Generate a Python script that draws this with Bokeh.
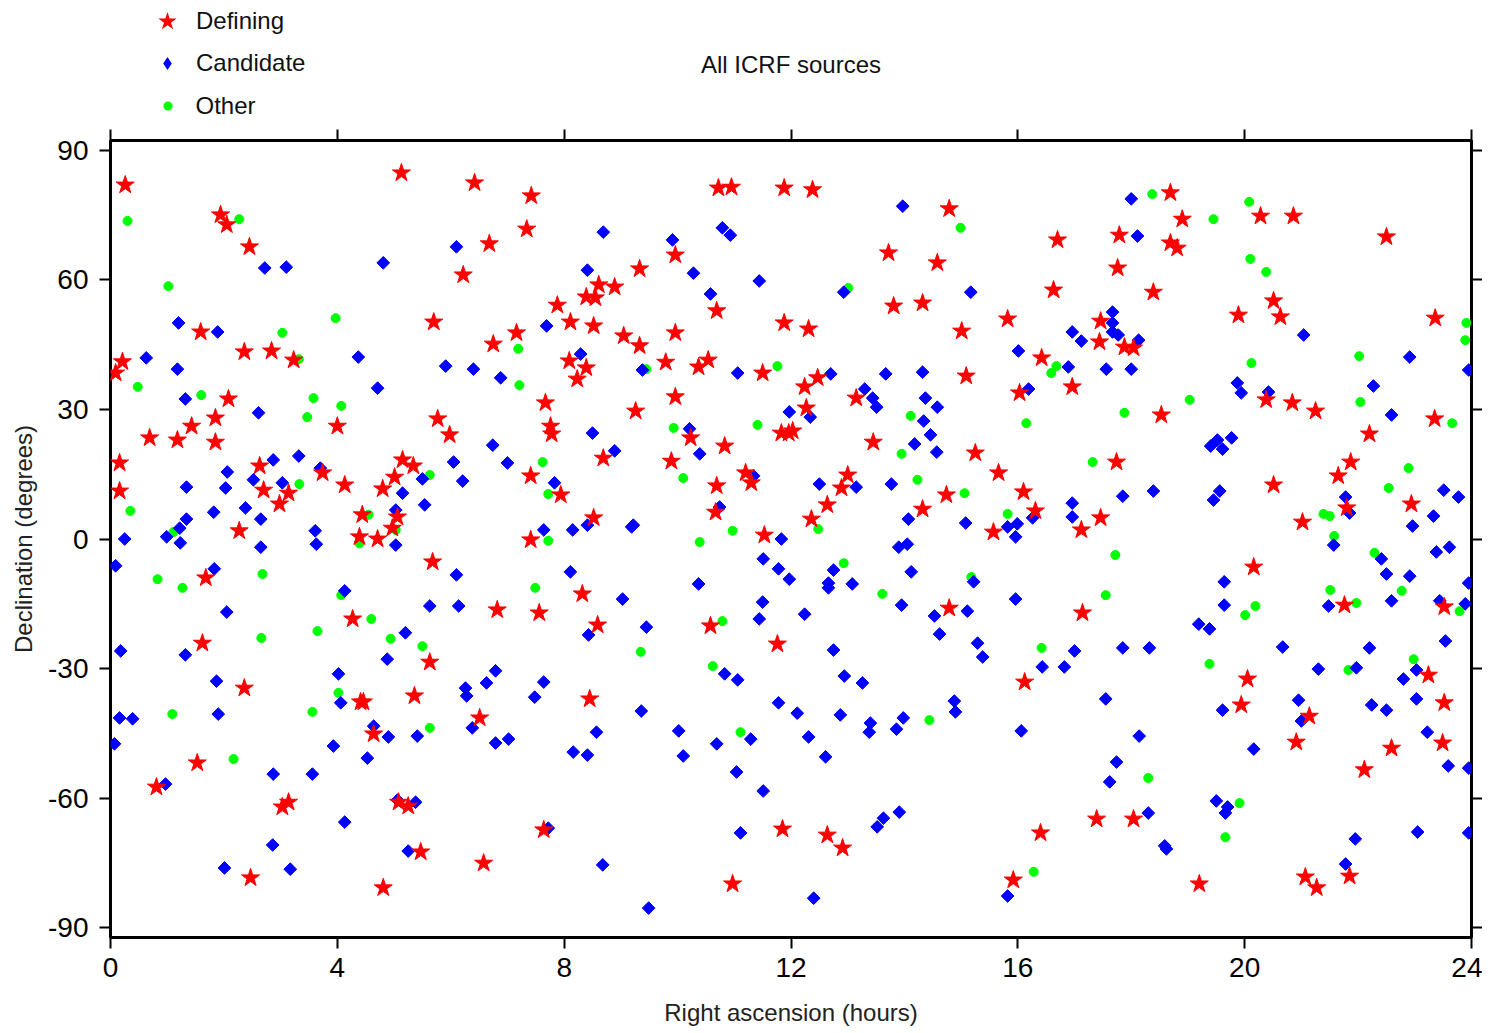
from bokeh.plotting import figure
from bokeh.models import Range1d, FixedTicker, LinearAxis, Legend, LegendItem, Label
from bokeh.layouts import column
from bokeh.embed import file_html
from bokeh.resources import INLINE
import numpy as np

# ---------------- data (RA in hours, Dec in degrees) ----------------
def_ra = [0.26, 0.21, 0.09, 0.16, 0.16, 0.69, 0.81, 1.18, 1.43, 1.59, 1.62, 1.68, 1.53, 1.85, 1.85, 1.94, 2.05, 2.08,
          2.27, 2.36, 2.36, 2.45, 2.47, 2.63, 2.70, 2.84, 2.98, 3.03, 3.14, 3.14, 3.23, 3.74,
          4.00, 4.13, 4.27, 4.44, 4.39, 4.71, 4.80, 4.97, 5.06, 5.01, 5.15, 5.34, 5.13, 5.70, 5.77, 5.98, 6.42, 6.22,
          6.68, 6.75, 7.16, 7.34, 7.42, 7.41, 7.41, 7.67, 7.76, 7.78, 7.88, 7.94, 5.68, 6.82, 7.56, 5.63, 5.36, 4.41,
          4.46, 6.51, 4.64, 5.08, 5.25, 7.64, 5.47, 6.58, 4.81,
          8.11, 8.09, 8.39, 8.55, 8.61, 8.89, 8.52, 9.05, 9.33, 9.33, 8.39, 8.23, 9.79, 9.96, 9.96, 10.37, 10.54, 10.69,
          10.72, 10.95, 11.88, 11.88, 11.50, 9.96, 9.26, 10.23, 10.83, 11.83, 11.96, 8.69, 9.89, 11.20, 11.30, 10.69,
          10.67, 8.52, 11.53, 8.32, 8.59, 10.58, 11.76, 8.45, 11.85, 10.97,
          12.38, 14.79, 13.72, 14.58, 13.81, 14.32, 15.82, 12.31, 15.01, 15.09, 12.47, 12.24, 13.15, 16.03, 12.27,
          12.03, 13.45, 15.25, 15.66, 13.00, 12.89, 16.10, 14.74, 12.64, 14.32, 12.36, 15.57, 14.79, 16.12, 12.64,
          12.91, 15.92,
          18.69, 18.90, 16.70, 17.79, 18.69, 18.81, 17.76, 16.63, 18.39, 19.89, 17.46, 17.44, 17.88, 18.04, 16.42,
          16.96, 18.53, 17.74, 16.31, 17.46, 17.12, 20.28, 20.16, 17.14, 20.05, 19.94, 17.39, 18.04, 16.40, 19.20,
          20.86, 22.50, 20.51, 20.63, 23.36, 20.38, 20.84, 21.25, 23.35, 22.20, 21.87, 21.65, 20.51, 22.94, 21.02,
          21.80, 21.76, 23.52, 23.24, 23.52, 21.14, 20.91, 22.59, 23.49, 22.11, 21.85, 21.07, 21.27]
def_dec = [81.9, 41.0, 38.4, 17.6, 11.1, 23.4, -57.4, 22.9, 26.1, 47.9, -24.1, -9.0, -51.8, 28.0, 22.4, 75.0, 72.7, 32.4,
           1.9, 43.3, -34.5, 67.6, -78.4, 16.9, 11.3, 43.5, 8.1, -62.0, -60.9, 10.6, 41.4, 15.3,
           26.1, 12.5, -18.5, 5.6, 0.5, 0.0, 11.6, 2.5, 5.1, 14.3, 18.3, 16.9, 84.7, 50.2, 27.8, 24.1, 82.4, 61.1,
           68.3, 45.1, 47.7, 71.7, 79.4, 14.6, -0.2, 31.5, 26.1, 24.3, 54.1, 10.2, -5.3, -16.4, -17.1, -28.5, -36.3, -37.7,
           -37.7, -41.4, -45.1, -60.9, -61.8, -67.3, -72.4, -75.0, -80.7,
           50.2, 41.2, 56.0, 55.8, 58.8, 58.3, 49.3, 47.0, 44.7, 62.5, 39.6, 37.0, 40.9, 65.7, 47.7, 39.8, 41.4, 52.8,
           81.2, 81.4, 81.2, 50.0, 38.4, 32.9, 29.6, 23.4, 21.5, 24.5, 24.5, 18.7, 18.0, 15.3, 13.0, 12.3,
           6.2, 4.9, 0.9, -12.7, -19.9, -20.1, -24.3, -37.0, -67.1, -79.8,
           80.8, 76.4, 66.2, 63.9, 53.9, 54.6, 50.9, 48.6, 48.1, 37.7, 37.3, 35.2, 32.6, 33.8, 30.3,
           25.0, 22.4, 19.9, 15.3, 14.8, 11.8, 10.9, 10.2, 7.9, 6.9, 4.6, 1.6, -16.0, -33.1, -68.5,
           -71.5, -78.9,
           80.1, 74.0, 69.2, 70.3, 68.5, 67.3, 62.7, 57.6, 57.1, 51.8, 50.4, 45.6, 44.4, 44.2, 41.9,
           35.2, 28.7, 17.8, 6.5, 4.9, 2.1, 74.7, -6.5, -17.1, -32.4, -38.4, -64.8, -64.8, -68.0, -79.8,
           74.7, 69.9, 55.1, 51.4, 51.1, 32.2, 31.5, 29.6, 27.8, 24.3, 17.8, 14.6, 12.5, 8.1, 3.9,
           7.2, -15.3, -15.7, -31.5, -37.9, -41.0, -47.0, -48.4, -47.2, -53.4, -78.0, -78.2, -80.7]

cand_ra = [2.72, 3.10, 1.20, 1.89, 0.63, 1.18, 1.32, 2.61, 2.87, 3.32, 3.70, 2.06, 2.52, 3.03, 1.34, 2.03, 1.82, 2.38,
           2.65, 1.34, 1.22, 3.61, 0.25, 0.99, 1.23, 2.65, 3.63, 0.09, 1.83, 2.05, 0.18, 1.32, 1.87, 1.90, 0.16, 0.39,
           0.07, 0.97, 2.87, 3.56, 3.93, 2.86, 2.01, 3.17,
           4.02, 4.06, 4.13, 4.13, 4.81, 6.10, 7.69, 4.37, 5.91, 6.40, 6.88, 4.71, 6.74, 6.05, 7.00, 5.50, 6.21, 7.83,
           5.15, 5.54, 5.03, 7.64, 8.15, 5.03, 6.10, 5.63, 6.14, 5.20, 4.88, 6.79, 6.63, 7.64, 6.26, 6.28, 7.48, 4.64,
           6.38, 4.90, 5.41, 6.79, 7.02, 4.53, 8.16, 5.06, 5.38, 7.72, 5.25, 8.11,
           8.69, 9.91, 10.79, 10.93, 8.41, 10.28, 11.44, 10.58, 8.29, 9.38, 11.06, 11.97, 8.50, 10.21, 8.89, 10.39,
           11.34, 10.74, 8.41, 9.19, 9.22, 11.83, 10.37, 11.51, 11.78, 11.97, 9.03, 11.50, 11.44, 9.45, 8.43,
           10.83, 11.06, 11.78, 12.11, 9.36, 8.57, 10.02, 11.29, 8.41, 10.10, 10.69, 11.04, 11.51, 11.11, 8.68, 9.49,
           13.97, 12.93, 15.17, 16.01, 12.70, 13.67, 14.32, 13.30, 13.44, 13.51, 14.37, 14.58, 12.34, 14.34, 14.46,
           14.18, 14.57, 16.19, 12.50, 13.15, 13.77, 14.07, 15.08, 15.82, 15.99, 15.96, 13.90, 14.05, 12.75, 12.66,
           12.66, 13.08, 14.12, 15.22, 15.96, 13.95, 12.24, 14.53, 15.11, 14.62, 15.29, 15.38, 12.75, 12.94, 13.26,
           14.88, 14.90, 12.87, 13.40, 13.38, 13.98, 13.86, 12.31, 12.61, 16.06, 13.91, 13.63, 13.52, 12.40, 15.82,
           18.00, 18.11, 17.67, 17.67, 17.67, 17.77, 16.96, 17.12, 18.13, 16.89, 17.56, 18.00, 19.87, 19.94, 19.40,
           19.52, 19.61, 19.77, 17.85, 18.39, 19.45, 19.56, 16.96, 16.96, 16.26, 19.64, 19.64, 19.19, 19.38, 17.00,
           16.43, 16.82, 17.85, 18.32, 17.55, 19.61, 18.14, 20.16, 17.74, 17.62, 18.30, 19.50, 19.70, 19.66, 18.59,
           18.62,
           21.04, 22.91, 23.95, 22.27, 22.59, 20.42, 21.78, 21.85, 23.51, 23.77, 23.33, 22.96, 21.57, 23.61, 22.41,
           23.38, 22.50, 22.91, 23.95, 21.48, 22.59, 23.44, 23.89, 23.54, 20.67, 22.20, 21.30, 21.97, 22.80, 23.03,
           20.95, 21.00, 22.24, 22.50, 23.03, 23.22, 23.59, 23.95, 21.95, 23.05, 23.95, 21.78]
cand_dec = [62.7, 62.9, 50.0, 47.9, 41.9, 39.3, 32.4, 29.2, 18.3, 19.2, 16.4, 15.5, 13.7, 13.0, 12.0, 11.8, 6.2, 7.2,
            4.6, 4.6, 2.5, 1.9, 0.0, 0.5, -0.9, -1.9, -1.2, -6.2, -6.9, -16.9, -25.9, -26.8, -32.9, -40.5, -41.4, -41.6,
            -47.4, -56.7, -54.4, -54.4, -47.9, -70.8, -76.1, -76.4,
            -31.2, -37.9, -12.0, -65.5, 63.9, 67.6, 49.3, 42.1, 40.0, 39.3, 37.3, 34.9, 21.7, 17.8, 17.6, 13.9, 13.4, 13.0,
            10.6, 7.9, 6.7, 2.1, 2.1, -1.4, -8.3, -15.5, -15.5, -21.7, -27.8, -30.5, -33.3, -33.1, -34.5, -36.3, -36.6, -43.3,
            -43.7, -45.8, -45.6, -47.2, -46.3, -50.7, -49.3, -60.4, -60.9, -66.9, -72.2, -7.6,
            71.0, 69.2, 72.0, 70.3, 62.2, 61.5, 59.7, 56.7, 42.8, 39.1, 38.4, 29.4, 24.5, 25.5, 20.4, 19.7,
            14.6, 7.4, 3.2, 2.8, 3.2, 0.0, -10.4, -4.6, -6.9, -9.3, -13.9, -14.6, -18.5, -20.4, -22.2,
            -31.2, -32.6, -37.9, -40.3, -39.8, -44.7, -44.4, -46.3, -50.0, -50.2, -47.4, -53.9, -58.3, -68.0, -75.4, -85.4,
            77.0, 57.1, 57.1, 43.5, 38.2, 38.2, 38.6, 34.7, 32.6, 30.5, 32.6, 30.5, 28.2, 27.3, 24.1,
            22.0, 20.1, 34.7, 12.7, 12.0, 12.7, 4.6, 3.7, 2.8, 3.5, 0.5, -1.9, -1.2, -7.2, -10.2,
            -11.3, -10.4, -7.6, -9.9, -13.9, -15.3, -17.4, -17.8, -16.7, -22.0, -24.1, -27.3, -25.7, -31.7, -33.3,
            -37.5, -40.0, -40.7, -42.6, -44.7, -41.4, -44.0, -45.8, -50.4, -44.4, -63.2, -64.6, -66.6, -83.1, -82.6,
            78.7, 70.1, 52.5, 50.0, 47.9, 47.2, 47.9, 45.8, 46.0, 39.8, 39.3, 39.3, 36.1, 33.8, 21.5,
            22.9, 20.8, 23.4, 9.9, 11.1, 9.0, 11.1, 8.3, 5.1, 4.9, -9.9, -15.3, -19.7, -20.8, -25.9,
            -29.6, -29.6, -25.2, -25.2, -37.0, -39.6, -45.6, -48.6, -51.6, -56.2, -63.4, -60.6, -62.0, -63.4, -71.0,
            -71.7,
            47.2, 42.1, 39.1, 35.4, 28.7, 34.0, 9.7, 6.0, 11.3, 9.7, 5.3, 3.0, -1.4, -1.9, -4.6,
            -3.0, -8.1, -8.6, -10.2, -15.5, -14.3, -14.3, -15.0, -23.6, -25.0, -25.2, -30.1, -29.8, -32.4, -30.3,
            -37.3, -42.1, -38.4, -39.6, -37.0, -44.7, -52.5, -53.0, -69.4, -67.8, -68.0, -75.2]

oth_ra = [0.30, 2.27, 1.02, 3.97, 3.03, 3.32, 0.48, 1.60, 3.58, 3.47, 4.07, 3.33, 0.35, 1.11, 0.83, 1.27, 2.68, 2.66,
          3.65, 1.09, 2.17, 3.56, 4.02,
          7.19, 7.21, 7.62, 5.63, 7.72, 4.55, 5.03, 4.39, 7.72, 7.49, 4.07, 4.60, 4.94, 5.50, 5.63,
          9.45, 11.76, 9.93, 11.41, 10.10, 10.97, 10.39, 10.79, 9.35, 10.62, 11.11,
          14.99, 13.01, 14.11, 13.95, 14.23, 15.06, 15.82, 16.15, 12.48, 12.93, 13.61, 15.18, 14.44, 16.28,
          18.37, 19.45, 20.08, 20.10, 16.68, 16.59, 19.03, 17.88, 20.12, 17.32, 17.72, 17.55, 16.42, 19.38, 20.19,
          20.01, 18.30, 19.91, 19.66,
          20.38, 23.91, 23.89, 22.02, 22.04, 23.66, 22.89, 22.54, 21.39, 21.50, 21.58, 22.29, 21.51, 21.97, 22.77,
          23.79, 21.83, 22.98]
oth_dec = [73.6, 74.0, 58.5, 51.1, 47.7, 41.6, 35.2, 33.3, 32.6, 28.2, 30.8, 12.7, 6.5, 1.6, -9.3, -11.3, -8.1, -22.9,
           -21.3, -40.5, -50.9, -40.0, -35.6,
           44.0, 35.6, 17.8, 14.8, 10.4, 5.6, 2.1, -1.0, -0.4, -11.3, -13.0, -18.5, -23.1, -24.8, -43.7,
           39.3, 40.0, 25.7, 26.4, 14.1, 1.9, -0.7, -19.0, -26.1, -29.4, -44.7,
           72.0, 58.1, 28.5, 19.7, 13.7, 10.6, 5.8, 26.8, 2.3, -5.6, -12.7, -8.8, -41.9, -77.0,
           79.8, 74.0, 78.0, 64.8, 40.0, 38.4, 32.2, 29.2, 40.7, 17.8, -3.7, -13.0, -25.2, -28.9, -15.5,
           -17.6, -55.3, -61.1, -69.0,
           61.8, 50.0, 46.0, 42.3, 31.7, 26.8, 16.4, 11.8, 5.8, 5.3, 0.7, -3.2, -11.8, -14.8, -12.0,
           -16.7, -30.3, -27.8]

hour_ticks = [0, 4, 8, 12, 16, 20, 24]
dec_ticks = [-90, -60, -30, 0, 30, 60, 90]
dec_tick_labels = ["-90", "-60", "-30", "0", "30", "60", "90"]

FONT = "Liberation Sans"
TXT = "24px"
TICKTXT = "28px"

FW, FH = 1361, 797
LEFT, RIGHT = 110, 8
X_RANGE = (0, 24)
Y_RANGE = (-92.2, 92.2)

# ---------------- header: legend + title (frame aligned with the main plot) ----------------
HH = 120
head = figure(frame_width=FW, frame_height=HH, x_range=Range1d(*X_RANGE), y_range=Range1d(*Y_RANGE),
              output_backend="svg", toolbar_location=None, x_axis_location=None, y_axis_location=None,
              min_border_left=LEFT, min_border_right=RIGHT, min_border_top=0, min_border_bottom=0)
head.grid.visible = False
head.outline_line_color = None
head.background_fill_color = "white"
head.border_fill_color = "white"

# legend-only renderers (size 0: they draw nothing in the header, the legend draws their symbol)
h_def = head.scatter(x=def_ra[:1], y=def_dec[:1], marker="star", size=0, fill_color="#ff0000", line_color=None)
h_cand = head.scatter(x=cand_ra[:1], y=cand_dec[:1], marker="diamond", size=0,
                      fill_color="#0000ff", line_color=None)
h_oth = head.scatter(x=oth_ra[:1], y=oth_dec[:1], marker="circle", size=0, fill_color="#00ff00", line_color=None)

def make_legend(label, rend, box, loc, standoff):
    lg = Legend(items=[LegendItem(label=label, renderers=[rend])], location=loc,
                glyph_width=box, glyph_height=box, label_standoff=standoff,
                padding=0, margin=0, spacing=0, border_line_color=None, background_fill_alpha=0,
                label_text_font=FONT, label_text_font_size=TXT, label_text_color="#111111")
    head.add_layout(lg)

make_legend("Defining", h_def, 48, (33, HH - 45), 5)
make_legend("Candidate", h_cand, 32, (41, HH - 79), 13)
make_legend("Other", h_oth, 23, (45.5, HH - 119.5), 17)

head.add_layout(Label(x=FW / 2, y=HH - 64, x_units="screen", y_units="screen", text="All ICRF sources",
                      text_align="center", text_baseline="middle", text_font=FONT, text_font_size=TXT,
                      text_color="#111111"))

# ---------------- main plot ----------------
p = figure(frame_width=FW, frame_height=FH,
           x_range=Range1d(*X_RANGE), y_range=Range1d(*Y_RANGE),
           output_backend="svg", toolbar_location=None,
           min_border_left=LEFT, min_border_top=20, min_border_right=RIGHT, min_border_bottom=91)
p.grid.visible = False
p.outline_line_color = "black"
p.outline_line_width = 3
p.background_fill_color = "white"
p.border_fill_color = "white"

def style_axis(ax, ticks, show_labels, labels=None):
    ax.ticker = FixedTicker(ticks=ticks)
    ax.axis_line_color = None
    ax.major_tick_out = 11
    ax.major_tick_in = 0
    ax.major_tick_line_width = 2
    ax.major_tick_line_color = "black"
    ax.minor_tick_line_color = None
    ax.major_label_text_font = FONT
    ax.major_label_text_color = "black"
    if show_labels:
        ax.major_label_text_font_size = TICKTXT
        ax.major_label_standoff = 9
        if labels is not None:
            ax.major_label_overrides = {t: s for t, s in zip(ticks, labels)}
    else:
        ax.major_label_overrides = {t: "" for t in ticks}
        ax.major_label_text_font_size = "1px"
        ax.major_label_standoff = 0
        ax.axis_label_standoff = 0
    ax.axis_label_text_font = FONT
    ax.axis_label_text_font_size = TXT
    ax.axis_label_text_font_style = "normal"
    ax.axis_label_text_color = "#222222"

style_axis(p.xaxis[0], hour_ticks, True)
style_axis(p.yaxis[0], dec_ticks, True, dec_tick_labels)
p.yaxis[0].major_label_standoff = 11
p.xaxis[0].axis_label = "Right ascension (hours)"
p.yaxis[0].axis_label = "Declination (degrees)"
p.xaxis[0].axis_label_standoff = 19
p.yaxis[0].axis_label_standoff = 8

top = LinearAxis()
style_axis(top, hour_ticks, False)
p.add_layout(top, "above")
right = LinearAxis()
style_axis(right, dec_ticks, False)
p.add_layout(right, "right")

r_oth = p.scatter(oth_ra, oth_dec, marker="circle", size=9, fill_color="#00ff00", line_color="#00ff00")
r_cand = p.scatter(cand_ra, cand_dec, marker="square", size=9, angle=np.pi / 4,
                   fill_color="#0000ff", line_color="#0000ff")
r_def = p.scatter(def_ra, def_dec, marker="star", size=19, fill_color="#ff0000", line_color="#ff0000")

layout = column(head, p, spacing=0)
open("out.html", "w").write(file_html(layout, INLINE))
